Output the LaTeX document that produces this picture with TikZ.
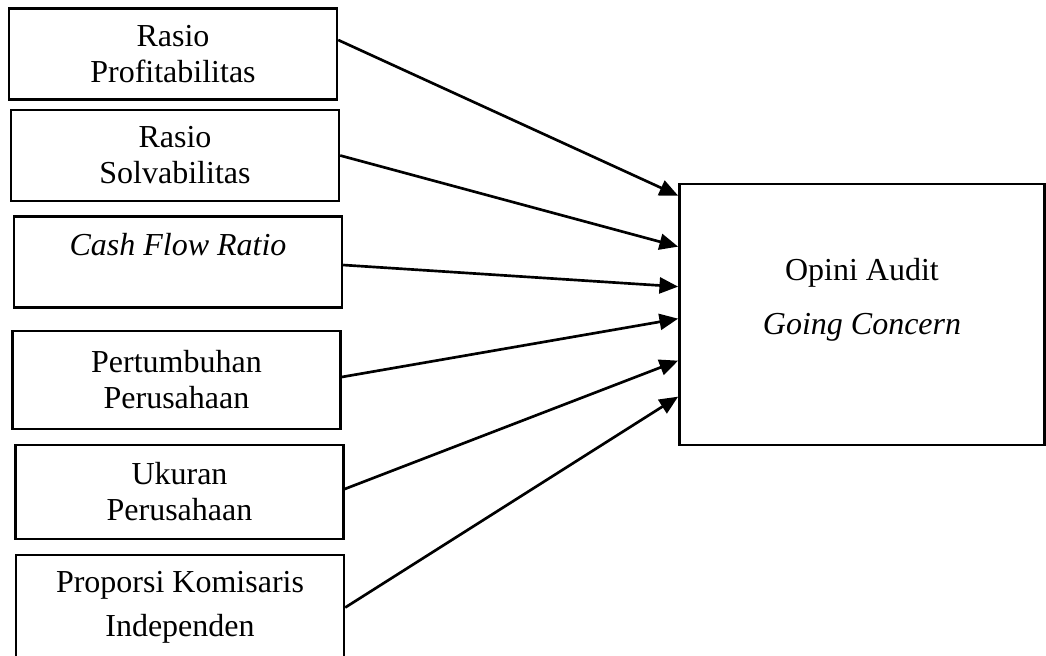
\documentclass[tikz,border=0pt]{standalone}
\usepackage{fontspec}
\setmainfont{Liberation Serif}
\usepackage{tikz}
\usetikzlibrary{calc}
\usetikzlibrary{arrows.meta}
\newcommand{\widthvar}{123pt}
\newcommand{\heightvar}{34pt}
\tikzset{
    common/.style={draw, rectangle, line width=0.9pt, inner sep=2pt, align=center, font=\fontsize{12pt}{13.5pt}\selectfont},
    varbox/.style={common, minimum width=\widthvar, minimum height=\heightvar},
    targetbox/.style={common, minimum width=137pt, minimum height=98pt},
    influence/.style={-{Triangle[length=7pt, width=6pt]}, line width=1pt},
}

\begin{document}
\begin{tikzpicture}[x=0.375pt, y=-0.375pt]
    \useasboundingbox (0,0) rectangle (1046,655);

    \node[varbox] (profit) at (173,54) {Rasio\\Profitabilitas};
    \node[varbox] (solv) at (175,155.5) {Rasio\\Solvabilitas};
    \node[varbox] (cashflow) at (178,262) {\textit{Cash Flow Ratio}\\~};
    \node[varbox, minimum height=36.75pt] (growth) at (176.5,380) {Pertumbuhan\\Perusahaan};
    \node[varbox, minimum height=35.25pt] (size) at (179.5,492) {Ukuran\\Perusahaan};
    \node[varbox, minimum height=39.5pt] (board) at (180,607.5) {Proporsi Komisaris\\[3pt]Independen};

    \node[targetbox] (opini) at (862,314.5) {Opini Audit\\[7pt]\textit{Going Concern}\\~};

    \draw[influence] ($(profit.east)+(0,-14)$) -- ($(opini.north west)+(0,13)$);
    \draw[influence] (solv.east) -- ($(opini.north west)+(0,64)$);
    \draw[influence] ($(cashflow.east)+(0,3)$) -- ($(opini.north west)+(0,104)$);
    \draw[influence] ($(growth.east)+(0,-3)$) -- ($(opini.north west)+(0,136)$);
    \draw[influence] ($(size.east)+(0,-3)$) -- ($(opini.north west)+(0,178)$);
    \draw[influence] (board.east) -- ($(opini.north west)+(0,214)$);
\end{tikzpicture}
\end{document}
